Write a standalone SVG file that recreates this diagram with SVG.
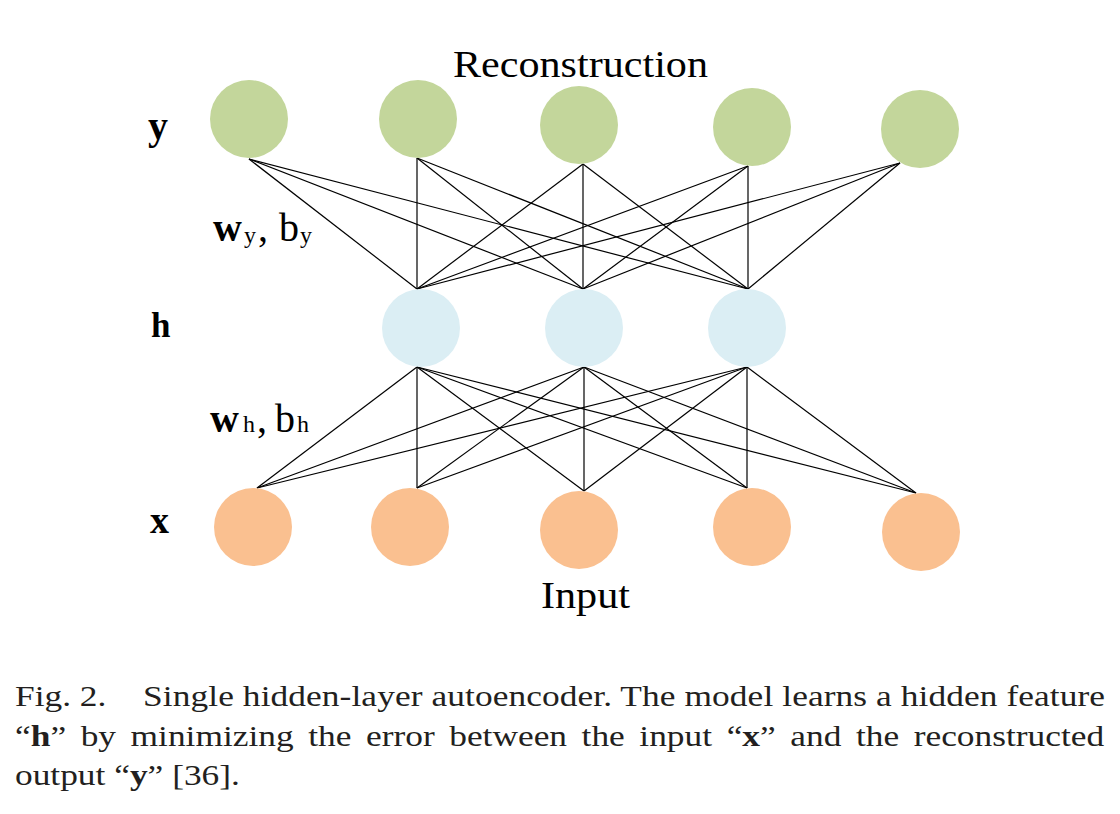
<svg xmlns="http://www.w3.org/2000/svg" width="1120" height="814" viewBox="0 0 1120 814">
<defs>
<style>
.bg{fill:#ffffff}
.out{fill:#c3d69b}
.hid{fill:#dbeef4}
.inp{fill:#fac090}
.conn line{stroke:#000;stroke-width:1.2}
.lbl{font-family:"Liberation Serif","Times New Roman",serif;fill:#000}
.b{font-weight:bold}
.cap{font-family:"Liberation Serif","Times New Roman",serif;fill:#231f20;font-size:29px}
</style>
</defs>
<rect class="bg" x="0" y="0" width="1120" height="814"/>
<g id="connectors" class="conn">
<line x1="249" y1="159" x2="417" y2="289"/>
<line x1="249" y1="159" x2="583" y2="289"/>
<line x1="249" y1="159" x2="748" y2="289"/>
<line x1="417" y1="158" x2="417" y2="289"/>
<line x1="417" y1="158" x2="583" y2="289"/>
<line x1="417" y1="158" x2="748" y2="289"/>
<line x1="583" y1="164" x2="417" y2="289"/>
<line x1="583" y1="164" x2="583" y2="289"/>
<line x1="583" y1="164" x2="748" y2="289"/>
<line x1="748" y1="166" x2="417" y2="289"/>
<line x1="748" y1="166" x2="583" y2="289"/>
<line x1="748" y1="166" x2="748" y2="289"/>
<line x1="900" y1="163" x2="417" y2="289"/>
<line x1="900" y1="163" x2="583" y2="289"/>
<line x1="900" y1="163" x2="748" y2="289"/>
<line x1="417" y1="367" x2="257" y2="488"/>
<line x1="417" y1="367" x2="417" y2="488"/>
<line x1="417" y1="367" x2="584" y2="491"/>
<line x1="417" y1="367" x2="747" y2="488"/>
<line x1="417" y1="367" x2="916" y2="493"/>
<line x1="584" y1="367" x2="257" y2="488"/>
<line x1="584" y1="367" x2="417" y2="488"/>
<line x1="584" y1="367" x2="584" y2="491"/>
<line x1="584" y1="367" x2="747" y2="488"/>
<line x1="584" y1="367" x2="916" y2="493"/>
<line x1="747" y1="367" x2="257" y2="488"/>
<line x1="747" y1="367" x2="417" y2="488"/>
<line x1="747" y1="367" x2="584" y2="491"/>
<line x1="747" y1="367" x2="747" y2="488"/>
<line x1="747" y1="367" x2="916" y2="493"/>
</g>
<g id="y1"><circle class="out" cx="249" cy="119" r="39"/></g>
<g id="y2"><circle class="out" cx="418" cy="119" r="39"/></g>
<g id="y3"><circle class="out" cx="579" cy="125" r="39"/></g>
<g id="y4"><circle class="out" cx="752" cy="127" r="39"/></g>
<g id="y5"><circle class="out" cx="920" cy="129" r="39"/></g>
<g id="h1"><circle class="hid" cx="421" cy="328" r="39"/></g>
<g id="h2"><circle class="hid" cx="584" cy="328" r="39"/></g>
<g id="h3"><circle class="hid" cx="747" cy="328" r="39"/></g>
<g id="x1"><circle class="inp" cx="253" cy="527" r="39"/></g>
<g id="x2"><circle class="inp" cx="410" cy="527" r="39"/></g>
<g id="x3"><circle class="inp" cx="579" cy="530" r="39"/></g>
<g id="x4"><circle class="inp" cx="752" cy="527" r="39"/></g>
<g id="x5"><circle class="inp" cx="921" cy="532" r="39"/></g>
<g id="labels">
<text class="lbl" x="453" y="77" font-size="37" textLength="255" lengthAdjust="spacingAndGlyphs">Reconstruction</text>
<text class="lbl" x="541" y="608" font-size="37" textLength="89" lengthAdjust="spacingAndGlyphs">Input</text>
<text class="lbl b" x="148" y="139" font-size="40">y</text>
<text class="lbl b" x="151" y="337" font-size="35">h</text>
<text class="lbl b" x="150" y="533" font-size="38">x</text>
<text class="lbl" y="241" font-size="40"><tspan class="b" x="213">w</tspan><tspan x="244" y="243" font-size="24">y</tspan><tspan x="258" y="241">,</tspan><tspan x="279">b</tspan><tspan x="300" y="243" font-size="24">y</tspan></text>
<text class="lbl" y="432" font-size="40"><tspan class="b" x="210">w</tspan><tspan x="243" font-size="24">h</tspan><tspan x="257">,</tspan><tspan x="275">b</tspan><tspan x="297" font-size="24">h</tspan></text>
</g>
<g id="caption" transform="translate(15,0) scale(1.22,1)">
<text class="cap" x="0" y="706">Fig. 2.</text>
<text class="cap" x="105" y="706" textLength="788.5" lengthAdjust="spacing">Single hidden-layer autoencoder. The model learns a hidden feature</text>
<text class="cap" x="0" y="746" word-spacing="4.7">“<tspan class="b">h</tspan>” by minimizing the error between the input “<tspan class="b">x</tspan>” and the reconstructed</text>
<text class="cap" x="0" y="785">output “<tspan class="b">y</tspan>” [36].</text>
</g>
</svg>
